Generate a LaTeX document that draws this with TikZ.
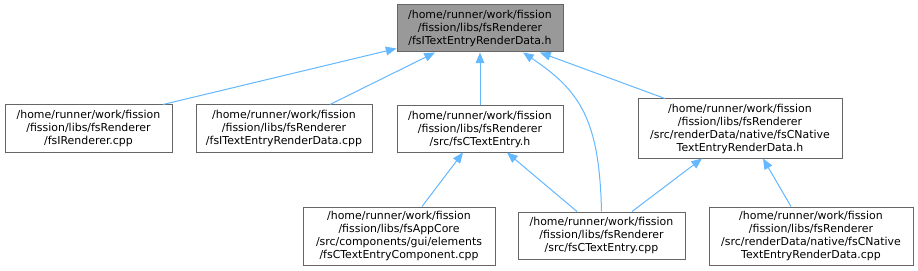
\documentclass[tikz,border=0pt]{standalone}
\usepackage{fontspec}
\setmainfont{DejaVu Sans}
\usepackage{xcolor}
\usetikzlibrary{arrows.meta}
\definecolor{linkblue}{HTML}{63B8FF}
\definecolor{boxgray}{HTML}{666666}
\definecolor{rootfill}{HTML}{999999}

\begin{document}
\begin{tikzpicture}[x=0.75pt, y=-0.75pt,
    every node/.style={draw=boxgray, line width=0.75pt, rectangle, align=center, inner sep=0pt, fill=white, font=\fontsize{8.2}{9.75}\selectfont},
    deplink/.style={-{Triangle[length=8pt, width=6.5pt]}, linkblue, line width=0.75pt}]
    \useasboundingbox[fill=white] (0,0) rectangle (918,271);

    % Root header
    \node (root) at (480,28.5) [fill=rootfill, minimum width=124.5pt, minimum height=35.25pt] {/home/runner/work/fission\\/fission/libs/fsRenderer\\/fsITextEntryRenderData.h};

    % Direct includers
    \node (rend) at (88.5,128.5) [minimum width=125.25pt, minimum height=35.25pt] {/home/runner/work/fission\\/fission/libs/fsRenderer\\/fsIRenderer.cpp};
    \node (rdcpp) at (284,128.5) [minimum width=132pt, minimum height=35.25pt] {/home/runner/work/fission\\/fission/libs/fsRenderer\\/fsITextEntryRenderData.cpp};
    \node (entryh) at (480,129) [minimum width=124.5pt, minimum height=34.5pt] {/home/runner/work/fission\\/fission/libs/fsRenderer\\/src/fsCTextEntry.h};
    \node (nativeh) at (740,128.5) [minimum width=153pt, minimum height=44.25pt] {/home/runner/work/fission\\/fission/libs/fsRenderer\\/src/renderData/native/fsCNative\\TextEntryRenderData.h};

    % Indirect includers
    \node (compcpp) at (399,236) [minimum width=144pt, minimum height=43.5pt] {/home/runner/work/fission\\/fission/libs/fsAppCore\\/src/components/gui/elements\\/fsCTextEntryComponent.cpp};
    \node (entrycpp) at (601.5,235.5) [minimum width=125.25pt, minimum height=35.25pt] {/home/runner/work/fission\\/fission/libs/fsRenderer\\/src/fsCTextEntry.cpp};
    \node (nativecpp) at (811,236) [minimum width=153pt, minimum height=43.5pt] {/home/runner/work/fission\\/fission/libs/fsRenderer\\/src/renderData/native/fsCNative\\TextEntryRenderData.cpp};

    % Links to the root
    \draw[deplink] ([xshift=55.9pt]rend.north) -- ([yshift=3pt]root.south west);
    \draw[deplink] ([xshift=34.5pt]rdcpp.north) -- ([xshift=-33.75pt]root.south);
    \draw[deplink] (entryh.north) -- (root.south);
    \draw[deplink] (entrycpp.north) .. controls +(-2,-92) and +(57,38) .. ([xshift=32.25pt]root.south);
    \draw[deplink] ([xshift=-56.25pt]nativeh.north) -- ([xshift=45pt]root.south);

    % Second level links
    \draw[deplink] ([xshift=17.25pt]compcpp.north) -- ([xshift=-12.75pt]entryh.south);
    \draw[deplink] ([xshift=-18.4pt]entrycpp.north) -- ([xshift=20.25pt]entryh.south);
    \draw[deplink] ([xshift=22.9pt]entrycpp.north) -- ([xshift=-28.5pt]nativeh.south);
    \draw[deplink] ([xshift=-15pt]nativecpp.north) -- ([xshift=17.25pt]nativeh.south);
\end{tikzpicture}
\end{document}
